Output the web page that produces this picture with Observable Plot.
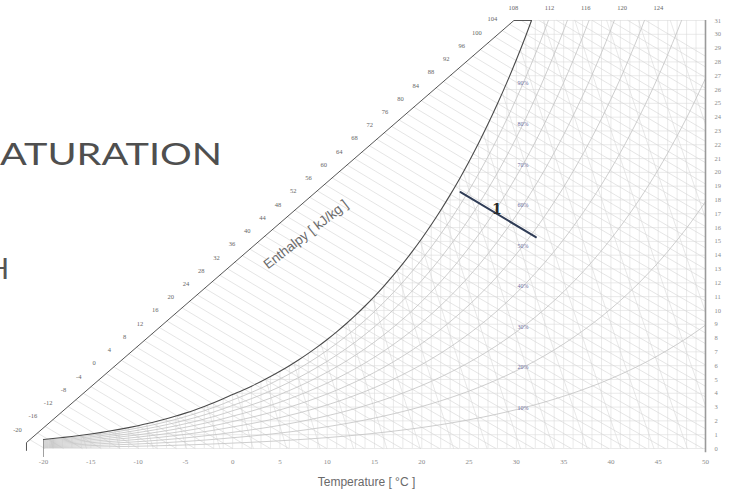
<!DOCTYPE html>
<html><head><meta charset="utf-8">
<script src="https://cdn.jsdelivr.net/npm/d3@7"></script>
<script src="https://cdn.jsdelivr.net/npm/@observablehq/plot@0.6"></script>
<style>
html,body{margin:0;padding:0;background:#fff;}
#wrap{position:relative;width:732px;height:491px;overflow:hidden;}
#overlay{position:absolute;left:0;top:0;pointer-events:none;}
svg text{-webkit-font-smoothing:antialiased;}
</style></head><body>
<div id="wrap"><div id="chart"></div>
<svg id="overlay" width="732" height="491">
  <text x="0" y="165" textLength="222" lengthAdjust="spacingAndGlyphs" font-family="Lato" font-size="30.5" fill="#4f4f4f">ATURATION</text>
  <text x="-13" y="279" font-family="Lato" font-size="29" fill="#555">H</text>
</svg></div>
<script>
// ---- data ----
const xTicks = [-20, -15, -10, -5, 0, 5, 10, 15, 20, 25, 30, 35, 40, 45, 50];
const yTicks = d3.range(0, 32);
// saturation humidity ratio (g/kg) at each whole degree from -20 to 50 °C
const satT = d3.range(-20, 51);
const satW = [0.656,0.722,0.795,0.873,0.958,1.052,1.153,1.263,1.383,1.513,1.654,1.807,1.974,2.154,2.347,2.563,2.791,3.039,3.306,3.595,
  3.907,4.202,4.517,4.853,5.210,5.592,5.999,6.430,6.890,7.379,7.899,8.451,9.038,9.661,10.321,11.023,11.767,12.555,13.391,14.276,15.212,
  16.206,17.257,18.369,19.545,20.788,22.106,23.496,24.966,26.519,28.161,29.896,31.727,33.662,
  35.71,37.86,40.15,42.56,45.09,47.77,50.61,53.59,56.76,60.08,63.62,67.34,71.30,75.47,79.82,84.48,89.37];
const rhLevels = [10, 20, 30, 40, 50, 60, 70, 80, 90];
const enthalpyLabels = d3.range(-20, 125, 4);      // kJ/kg
const enthalpyLines = d3.range(-20, 126, 2);
const volumeLines = d3.range(0.72, 0.955, 0.01);
const scaleLineT = [-21.8, -21.8, 29.74];           // enthalpy scale edge
const scaleLineW = [-0.14, 0.43, 31];
const processT = [24.1, 32.06];
const processW = [18.57, 15.31];
const processLabel = ["1"];
const wTop = 31;

// ---- derived geometry ----
const ws = d3.scaleLinear().domain(satT).range(satW);
const tSat = d3.scaleLinear().domain(satW).range(satT);
const tTop = tSat(wTop);

const satCurve = satT.filter(t => t < tTop).map(t => ({T: t, W: ws(t)}));
satCurve.push({T: tTop, W: wTop});

const scaleEdge = scaleLineT.map((t, i) => ({T: t, W: scaleLineW[i]}));
scaleEdge.push({T: tTop, W: wTop});

const rhRows = [];
for (const rh of rhLevels) {
  let prev = null;
  for (const t of satT) {
    const w = rh / 100 * ws(t);
    if (w <= wTop) { rhRows.push({rh, T: t, W: w}); prev = {t, w}; }
    else {
      if (prev) { const f = (wTop - prev.w) / (w - prev.w); rhRows.push({rh, T: prev.t + f * (t - prev.t), W: wTop}); }
      break;
    }
  }
}

const wS = t => scaleLineW[1] + (t - scaleLineT[1]) * (scaleLineW[2] - scaleLineW[1]) / (scaleLineT[2] - scaleLineT[1]);
const wH = (h, t) => (h - 1.006 * t) / (2.501 + 0.00186 * t);
function solve(f, lo, hi) { for (let i = 0; i < 60; i++) { const m = (lo + hi) / 2; if (f(lo) * f(m) <= 0) hi = m; else lo = m; } return (lo + hi) / 2; }
const hRows = [];
for (const h of enthalpyLines) {
  let t0 = solve(t => wH(h, t) - wS(t), -30, 45);
  if (wH(h, t0) > wTop) t0 = solve(t => wH(h, t) - wTop, -30, 60);
  const t1 = Math.min(h / 1.006, 50);
  if (t1 <= t0) continue;
  for (let i = 0; i <= 12; i++) { const t = t0 + (t1 - t0) * i / 12; hRows.push({h, T: t, W: wH(h, t)}); }
}

const vRows = [];
for (const v of volumeLines) {
  for (let w = 0; w <= wTop + 1e-6; w += 0.1) {
    const t = v * 353.0 / (1 + 0.0016078 * w) - 273.15;
    if (t >= -20 && t <= 50 && w <= ws(t)) vRows.push({v, T: t, W: w});
  }
}

const hPos = h => h <= 104
  ? {T: -22.75 + (h + 20) * 0.4049, W: 1.38 + (h + 20) * 0.2396}
  : {T: 29.68 + (h - 108) * 0.958, W: 31.9};

const rhLabelT = 30.7;
const procMidT = 27.94;
const procMidW = processW[0] + (procMidT - processT[0]) / (processT[1] - processT[0]) * (processW[1] - processW[0]);

const grid = "#dcdcdc";
const plot = Plot.plot({
  width: 732, height: 491,
  marginLeft: 43, marginRight: 27, marginTop: 20, marginBottom: 43,
  x: {domain: [-20, 50]},
  y: {domain: [0, 31]},
  style: {fontFamily: "'Liberation Serif','DejaVu Serif',serif", background: "white", overflow: "visible"},
  marks: [
    Plot.ruleX(satT, {x: d => d, y1: 0, y2: d => Math.min(ws(d), wTop), stroke: grid, strokeWidth: 0.6}),
    Plot.ruleY(d3.range(0, 32), {y: d => d, x1: d => d === 0 ? -20 : tSat(d), x2: 50, stroke: grid, strokeWidth: 0.6}),
    Plot.line(vRows, {x: "T", y: "W", z: "v", stroke: "#d6d6d6", strokeWidth: 0.6}),
    Plot.line(hRows, {x: "T", y: "W", z: "h", stroke: "#d4d4d4", strokeWidth: 0.6}),
    Plot.line(rhRows, {x: "T", y: "W", z: "rh", stroke: "#c2c2c2", strokeWidth: 0.8, curve: "monotone-x"}),
    Plot.ruleX([-20], {y1: -0.65, y2: d => ws(d), stroke: "#888", strokeWidth: 0.8}),
    Plot.ruleX([50], {y1: -0.3, y2: wTop, stroke: "#9a9a9a", strokeWidth: 1.6}),
    Plot.line(scaleEdge, {x: "T", y: "W", stroke: "#555", strokeWidth: 1}),
    Plot.line(satCurve, {x: "T", y: "W", stroke: "#4a4a4a", strokeWidth: 1.1, curve: "monotone-x"}),
    Plot.text(enthalpyLabels, {x: d => hPos(d).T, y: d => hPos(d).W, text: d => String(d), fontSize: 6.5, fill: "#666"}),
    Plot.text(rhLevels, {x: () => rhLabelT, y: d => d / 100 * ws(rhLabelT), text: d => d + "%", fontSize: 6, fill: "#6d6d9e"}),
    Plot.line(processT.map((t, i) => ({T: t, W: processW[i]})), {x: "T", y: "W", stroke: "#2f3c56", strokeWidth: 2}),
    Plot.text(processLabel, {x: () => procMidT, y: () => procMidW, text: d => d, lineAnchor: "bottom", fontSize: 14, fontWeight: "bold", fill: "#2a2a2a", fontFamily: "'DejaVu Serif',serif"}),
    Plot.text(["Enthalpy [ kJ/kg ]"], {x: () => hPos(48).T, y: () => hPos(48).W, dx: 28, dy: 30, rotate: -38, text: d => d, fontSize: 13.5, fill: "#6a6a6a", fontFamily: "'Liberation Sans',Arial,sans-serif"}),
    Plot.text(["Temperature [ °C ]"], {frameAnchor: "bottom", dx: -8, dy: 37, lineAnchor: "bottom", text: d => d, fontSize: 12, fill: "#6a6a6a", fontFamily: "'Liberation Sans',Arial,sans-serif"}),
    Plot.axisX(xTicks, {tickSize: 0, tickPadding: 11, fontSize: 7, color: "#8a8a8a", label: null, tickFormat: d => String(d)}),
    Plot.axisY(yTicks, {anchor: "right", tickSize: 0, tickPadding: 9, fontSize: 6.5, color: "#8a8a8a", label: null, tickFormat: d => String(d)})
  ]
});
document.getElementById("chart").appendChild(plot);
</script>
</body></html>
